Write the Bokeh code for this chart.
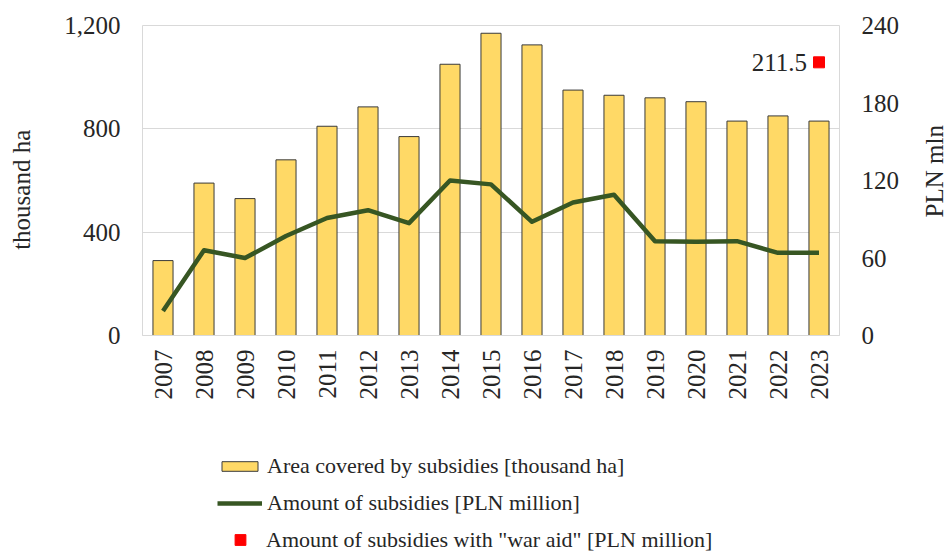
from bokeh.plotting import figure
from bokeh.layouts import column, row
from bokeh.models import (Range1d, LinearAxis, FixedTicker, NumeralTickFormatter,
                          Legend, LegendItem, FactorRange, ColumnDataSource, Label)
from bokeh.core.properties import value
from bokeh.embed import file_html
from bokeh.resources import INLINE
import math

years = ["2007", "2008", "2009", "2010", "2011", "2012", "2013", "2014", "2015",
         "2016", "2017", "2018", "2019", "2020", "2021", "2022", "2023"]
area_thousand_ha = [290, 590, 530, 680, 810, 885, 770, 1050, 1170,
                    1125, 950, 930, 920, 905, 830, 850, 830]
subsidies_pln_mln = [19, 66, 60, 77, 91, 97, 87, 120, 117,
                     88, 103, 109, 73, 72.5, 73, 64, 64]
war_aid_year = ["2023"]
war_aid_pln_mln = [211.5]
left_ticks = [0, 400, 800, 1200]
right_ticks = [0, 60, 120, 180, 240]
left_title = "thousand ha"
right_title = "PLN mln"

FONT = "Liberation Serif"
TXT = "#262626"
BAR = dict(fill_color="#FFD966", line_color="#3a3a3a", line_width=1)
LINE = dict(line_color="#375623", line_width=4.5, line_join="round")
SQ = dict(marker="square", fill_color="#ff0000", line_color="#ff0000")
TOP, BOTTOM = 25, 85


def strip(width, height, **borders):
    f = figure(width=width, height=height, output_backend="svg", toolbar_location=None,
               x_axis_type=None, y_axis_type=None, x_range=Range1d(0, 1),
               y_range=Range1d(0, 1), **borders)
    f.outline_line_color = None
    f.grid.visible = False
    return f


p = figure(width=865, height=420, output_backend="svg", toolbar_location=None,
           x_range=FactorRange(factors=years), y_range=Range1d(0, 1200),
           min_border_left=102, min_border_right=66, min_border_top=TOP,
           min_border_bottom=BOTTOM)
p.extra_y_ranges = {"pln": Range1d(0, 240)}
p.outline_line_color = "#d9d9d9"
p.outline_line_width = 1
p.background_fill_color = "white"
p.border_fill_color = "white"

src = ColumnDataSource(dict(year=years, area=area_thousand_ha, amt=subsidies_pln_mln))
bars = p.vbar(x="year", top="area", width=0.49, source=src, **BAR)
line = p.line(x="year", y="amt", source=src, y_range_name="pln", **LINE)
wsrc = ColumnDataSource(dict(year=war_aid_year, v=war_aid_pln_mln,
                             lab=["%.1f" % v for v in war_aid_pln_mln]))
sq = p.scatter(x="year", y="v", source=wsrc, y_range_name="pln", size=11, **SQ)
p.text(x="year", y="v", text="lab", source=wsrc, y_range_name="pln",
       x_offset=-12, text_align="right", text_baseline="middle",
       text_font=value(FONT), text_font_size="25px", text_color=TXT)

p.xgrid.visible = False
p.ygrid.ticker = FixedTicker(ticks=[400, 800])
p.ygrid.grid_line_color = "#d9d9d9"
p.ygrid.grid_line_width = 1


def style_axis(ax):
    ax.major_label_text_font = FONT
    ax.major_label_text_font_size = "25px"
    ax.major_label_text_color = TXT
    ax.major_tick_line_color = None
    ax.minor_tick_line_color = None
    ax.major_tick_out = 0
    ax.major_tick_in = 0
    ax.minor_tick_out = 0
    ax.minor_tick_in = 0
    ax.axis_line_color = None


ya = p.yaxis[0]
ya.ticker = FixedTicker(ticks=left_ticks)
ya.formatter = NumeralTickFormatter(format="0,0")
style_axis(ya)
ya.major_label_standoff = 22

ra = LinearAxis(y_range_name="pln", ticker=FixedTicker(ticks=right_ticks))
style_axis(ra)
ra.major_label_standoff = 22
p.add_layout(ra, "right")

xa = p.xaxis[0]
style_axis(xa)
xa.axis_line_color = "#d9d9d9"
xa.major_label_orientation = math.pi / 2
xa.major_label_standoff = 14

# side strips holding the two axis titles (read bottom-to-top, like the original)
title_style = dict(angle=math.pi / 2, text_align="center", text_baseline="middle",
                   text_font=FONT, text_font_size="25px", text_color=TXT)
lft = strip(40, 420, min_border_left=0, min_border_right=0,
            min_border_top=TOP, min_border_bottom=BOTTOM)
lft.add_layout(Label(x=0.52, y=0.47, text=left_title, **title_style))
rgt = strip(44, 420, min_border_left=0, min_border_right=0,
            min_border_top=TOP, min_border_bottom=BOTTOM)
rgt.add_layout(Label(x=0.67, y=0.53, text=right_title, **title_style))

# legend strip below the chart
q = strip(949, 131, min_border=0)
# legend swatches only (zero-size, outside the visible range)
lb = q.vbar(x=[-5], top=[0], width=0.5, **BAR)
ll = q.line(x=[-5, -4], y=[-1, -1], **LINE)
ls = q.scatter(x=[-5], y=[-1], size=11, **SQ)

leg_common = dict(border_line_color=None, background_fill_alpha=0,
                  label_text_font=FONT, label_text_font_size="22px",
                  label_text_color=TXT, padding=0, margin=0)
legA = Legend(items=[LegendItem(label="Area covered by subsidies [thousand ha]", renderers=[lb]),
                     LegendItem(label="Amount of subsidies [PLN million]", renderers=[ll])],
              location=(217, 35), glyph_width=45, glyph_height=12, label_height=26,
              spacing=11, label_standoff=5, **leg_common)
legB = Legend(items=[LegendItem(label='Amount of subsidies with "war aid" [PLN million]', renderers=[ls])],
              location=(225, -2), glyph_width=30, glyph_height=27, label_height=26,
              label_standoff=11, **leg_common)
q.add_layout(legA, "center")
q.add_layout(legB, "center")

layout = column(row(lft, p, rgt, spacing=0), q, spacing=0)
open("out.html", "w").write(file_html(layout, INLINE))
